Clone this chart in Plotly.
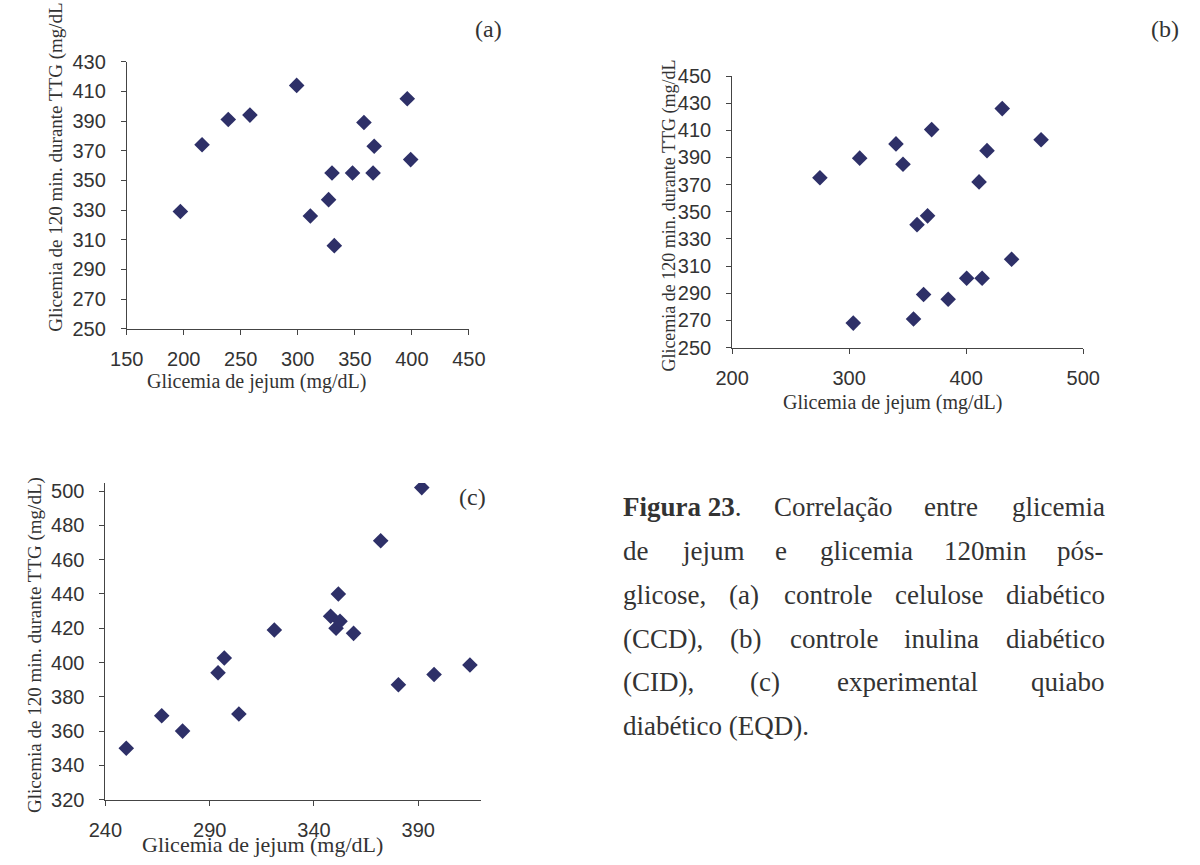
import plotly.graph_objects as go

# ---------------- data ----------------
# (a) controle celulose diabético (CCD)
a_x = [197, 216, 239, 258, 299, 311, 327, 330, 332, 348, 358, 366, 367, 396, 399]
a_y = [329, 374, 391, 394, 414, 326, 337, 355, 306, 355, 389, 355, 373, 405, 364]
a_xticks = [150, 200, 250, 300, 350, 400, 450]
a_yticks = [250, 270, 290, 310, 330, 350, 370, 390, 410, 430]

# (b) controle inulina diabético (CID)
b_x = [275, 303.5, 309, 340, 346, 355, 358, 363.6, 367, 370.5, 384.6, 400.4, 411, 413.6, 417.8, 430.8, 438.8, 464]
b_y = [375, 268, 389.5, 400, 385, 271, 340.5, 289, 347, 410.5, 285.6, 301, 372, 301, 395, 426, 315, 403]
b_xticks = [200, 300, 400, 500]
b_yticks = [250, 270, 290, 310, 330, 350, 370, 390, 410, 430, 450]

# (c) experimental quiabo diabético (EQD)
c_x = [250, 267, 277, 294, 297, 304, 321, 348, 350.6, 351.7, 352.5, 359, 372, 380.5, 391.7, 397.6, 414.8]
c_y = [350, 369, 360, 394, 402.6, 370, 419, 427, 420, 440, 424, 417, 471, 387, 502, 393, 398.6]
c_xticks = [240, 290, 340, 390]
c_yticks = [320, 340, 360, 380, 400, 420, 440, 460, 480, 500]

x_title = "Glicemia de jejum (mg/dL)"
y_title_ab = "Glicemia de 120 min. durante TTG (mg/dL"
y_title_c = "Glicemia de 120 min. durante TTG (mg/dL)"

caption_lines = [
    ["<b>Figura 23</b>.", "Correlação", "entre", "glicemia"],
    ["de", "jejum", "e", "glicemia", "120min", "pós-"],
    ["glicose,", "(a)", "controle", "celulose", "diabético"],
    ["(CCD),", "(b)", "controle", "inulina", "diabético"],
    ["(CID),", "(c)", "experimental", "quiabo"],
    ["diabético (EQD)."],
]

# ---------------- layout helpers ----------------
W, H = 1200, 865
def px(x):
    return x / W
def py(y):
    return 1 - y / H

MARK = "#2E3068"
AXC = "#444444"
TXT = "#333333"
SANS = "Liberation Sans, Arial, sans-serif"
SERIF = "Liberation Serif, Times New Roman, serif"

fig = go.Figure()
panels = [
    (a_x, a_y, "x", "y"),
    (b_x, b_y, "x2", "y2"),
    (c_x, c_y, "x3", "y3"),
]
for xs, ys, xa, ya in panels:
    fig.add_trace(go.Scatter(
        x=xs, y=ys, mode="markers", xaxis=xa, yaxis=ya,
        marker=dict(symbol="diamond", size=12, color=MARK, line=dict(width=0)),
        showlegend=False, hoverinfo="x+y"))

def axis(dom, rng, ticks, standoff):
    return dict(
        domain=dom, range=rng, tickvals=ticks, ticktext=[str(t) for t in ticks],
        showline=True, linecolor=AXC, linewidth=1, ticks="outside", ticklen=5,
        tickcolor=AXC, tickwidth=1, showgrid=False, zeroline=False,
        tickfont=dict(family=SANS, size=20, color=TXT), ticklabelstandoff=standoff,
        fixedrange=True)

# pixel boxes of the plot areas: (left, right, top, bottom)
A = (113, 465, 52, 326)
B = (736, 1097.3, 66.7, 345.3)
C = (91, 477.3, 484.3, 809.3)

def xdom(b):
    return [px(b[0]), px(b[1])]
def ydom(b):
    return [py(b[3]), py(b[2])]

fig.update_layout(
    width=W, height=H, margin=dict(l=0, r=0, t=0, b=0),
    paper_bgcolor="white", plot_bgcolor="white",
    xaxis=dict(axis(xdom(A), [150, 450], a_xticks, 7), anchor="y"),
    yaxis=dict(axis(ydom(A), [250, 430], a_yticks, 11), anchor="x"),
    xaxis2=dict(axis(xdom(B), [200, 500], b_xticks, 7), anchor="y2"),
    yaxis2=dict(axis(ydom(B), [250, 450], b_yticks, 11), anchor="x2"),
    xaxis3=dict(axis(xdom(C), [240, 420], c_xticks, 7), anchor="y3"),
    yaxis3=dict(axis(ydom(C), [320, 504.7], c_yticks, 11), anchor="x3"),
)

ann = []
def text(t, x, y, size, family=SERIF, angle=0, xanchor="center", yanchor="middle"):
    ann.append(dict(text=t, x=px(x), y=py(y), xref="paper", yref="paper",
                    showarrow=False, textangle=angle, xanchor=xanchor, yanchor=yanchor,
                    font=dict(family=family, size=size, color=TXT), borderpad=0))

# axis titles
text(x_title, 246, 380, 20)
text(y_title_ab, 40, 160, 19, angle=-90)
text(x_title, 901, 402, 20)
text(y_title_ab, 672, 210, 18, angle=-90)
text(x_title, 253, 855, 22)
text(y_title_c, 19, 650, 19, angle=-90)

# panel letters
text("(a)", 485, 18, 24)
text("(b)", 1197, 18, 24, xanchor="right")
text("(c)", 469, 499, 24)

# caption (justified, Times metrics)
REG = {" ": 250, "(": 333, ")": 333, ",": 250, ".": 250, "-": 333, "/": 278,
       "A": 722, "B": 667, "C": 667, "D": 722, "E": 611, "F": 556, "G": 722, "I": 333,
       "L": 611, "Q": 722, "T": 611, "a": 444, "b": 500, "c": 444, "d": 500, "e": 444,
       "g": 500, "i": 278, "j": 278, "l": 278, "m": 778, "n": 500, "o": 500, "p": 500,
       "q": 500, "r": 333, "s": 389, "t": 278, "u": 500, "x": 500, "ç": 444, "ã": 444,
       "é": 444, "ó": 500}
BOLD = {" ": 250, "F": 611, "i": 278, "g": 500, "u": 556, "r": 444, "a": 500}

def width(word):
    w = 0
    bold = False
    i = 0
    while i < len(word):
        if word.startswith("<b>", i):
            bold = True; i += 3; continue
        if word.startswith("</b>", i):
            bold = False; i += 4; continue
        ch = word[i]
        if ch.isdigit():
            w += 500
        elif bold:
            w += BOLD.get(ch, REG.get(ch, 500))
        else:
            w += REG.get(ch, 500)
        i += 1
    return w / 1000.0

CAP_FS = 27
CAP_L, CAP_R = 623, 1116
CAP_Y0, CAP_DY = 509, 45
for li, words in enumerate(caption_lines):
    y = CAP_Y0 + li * CAP_DY
    if li == len(caption_lines) - 1:
        text(words[0], CAP_L, y, CAP_FS, xanchor="left")
        continue
    widths = [width(w) * CAP_FS for w in words]
    gap = (CAP_R - CAP_L - sum(widths)) / (len(words) - 1)
    x = CAP_L
    for w, wd in zip(words, widths):
        text(w, x, y, CAP_FS, xanchor="left")
        x += wd + gap

fig.update_layout(annotations=ann)
fig.write_html("out.html")
